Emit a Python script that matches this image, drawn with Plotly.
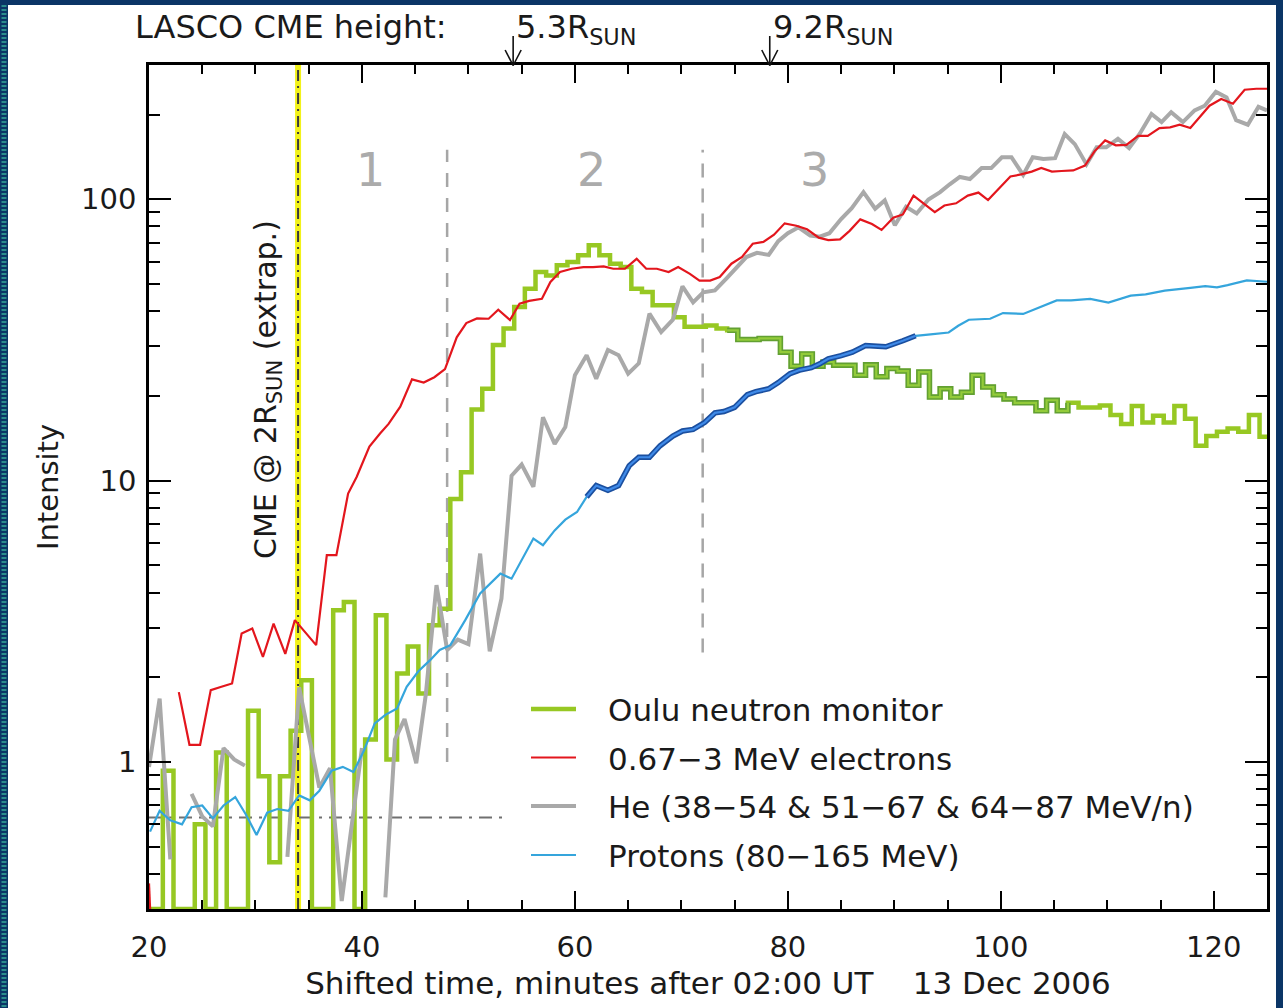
import plotly.graph_objects as go

# ---------------- data ----------------
oulu_time = [20.0] + [round(20.3 + i, 1) for i in range(105)]  # 1-min bin starts
oulu_intensity = [
    0.3,
    0.3, 0.93, 0.3, 0.3, 0.6, 0.3, 1.08, 0.3, 0.3, 1.52,
    0.89, 0.44, 0.89, 1.29, 1.95, 0.3, 0.3, 3.46, 3.7, 0.3,
    1.2, 3.32, 1.02, 2.06, 2.57, 1.75, 3.06, 3.5, 8.6, 10.7,
    17.9, 21.2, 30.3, 34.7, 41.4, 48.1, 55.1, 53.6, 58.2, 59.8,
    63.2, 68.6, 63.2, 59.0, 57.4, 48.1, 46.8, 42.0, 42.0, 38.1,
    35.2, 35.2, 35.6, 34.7, 34.2, 31.7, 31.7, 32.0, 32.0, 28.6,
    25.5, 28.2, 25.5, 26.4, 25.7, 25.7, 23.7, 25.8, 23.4, 25.0,
    24.5, 21.8, 24.3, 19.8, 21.2, 19.8, 20.6, 23.7, 21.5, 20.2,
    19.5, 18.9, 18.9, 17.7, 19.3, 17.7, 18.9, 18.2, 18.2, 18.5,
    17.1, 15.9, 18.4, 16.1, 17.0, 16.1, 18.4, 16.6, 13.3, 14.4,
    14.9, 15.3, 14.9, 17.1, 14.3,
]

electron_time = [
    20.0, 21.0, 22.0, 22.8, 23.8, 24.8, 25.8, 26.8, 27.8, 28.7, 29.7, 30.7,
    31.7, 32.8, 33.7, 35.7, 36.7, 37.6, 38.7, 39.5, 40.7, 41.7, 42.5, 43.6,
    44.7, 45.8, 46.8, 47.8, 48.9, 49.8, 50.8, 51.9, 52.8, 53.9, 54.8, 55.7,
    56.9, 57.7, 58.6, 59.7, 60.8, 61.7, 62.7, 63.6, 64.7, 65.8, 66.7, 67.7,
    68.8, 69.7, 70.8, 71.7, 72.7, 73.6, 74.7, 75.7, 76.7, 77.7, 78.7, 79.7,
    80.8, 81.8, 82.9, 83.8, 84.9, 85.8, 86.8, 87.9, 88.8, 89.9, 90.8, 91.8,
    92.9, 93.8, 94.7, 95.8, 96.9, 97.9, 98.8, 99.9, 100.9, 101.9, 102.9, 103.8,
    104.8, 105.7, 106.8, 107.9, 108.8, 109.8, 110.8, 111.8, 112.9, 113.8, 114.9,
    115.9, 116.8, 117.8, 118.7, 119.6, 120.7, 121.8, 122.9, 124.0, 125.0,
]
electron_intensity = [
    0.37, 0.05, None, 1.77, 1.15, 1.15, 1.80, 1.85, 1.90, 2.86, 2.98, 2.36,
    3.10, 2.42, 3.19, 2.6, 5.43, 5.43, 8.99, 10.3, 13.2, 14.7, 15.9, 18.3,
    22.9, 22.3, 23.3, 24.9, 32.3, 36.3, 37.7, 37.6, 40.5, 37.2, 42.5, 43.5,
    44.3, 50.8, 55.1, 56.6, 57.4, 57.4, 57.7, 56.6, 56.6, 61.4, 56.6, 56.6,
    55.1, 57.4, 54.3, 51.4, 51.4, 52.9, 59.0, 62.4, 69.5, 70.5, 74.8, 82.1,
    80.5, 78.2, 73.0, 71.6, 72.0, 77.2, 84.8, 81.6, 77.8, 85.9, 88.3, 103,
    95.6, 89.9, 95.0, 96.7, 103, 105.6, 99.3, 109.5, 120.5, 122.5, 125.4, 129.2,
    125.4, 126, 126.6, 131.7, 148, 161.8, 155.5, 156, 168, 168, 179,
    180, 184, 179, 195.6, 215, 227, 218.6, 245, 247, 247,
]

helium_time = [
    20.0, 21.0, 22.0, 23.0, 24.0, 25.0, 26.0, 27.0, 28.0, 29.0, 30.0,
    33.0, 34.1, 36.0, 37.0, 38.1, 40.0, 41.0, 42.2, 43.1, 44.0, 45.1, 46.0,
    47.0, 48.0, 49.0, 50.0, 51.1, 52.0, 53.1, 54.05, 55.0, 56.1, 57.0, 58.1,
    59.1, 60.0, 61.1, 62.0, 63.1, 64.1, 65.0, 66.0, 67.0, 68.1, 69.2, 70.1,
    71.1, 72.05, 73.15, 74.2, 75.2, 76.1, 77.1, 78.2, 79.1, 80.0, 81.0, 82.1,
    83.0, 83.9, 85.0, 86.0, 87.1, 88.2, 89.1, 90.05, 91.1, 92.1, 93.2, 94.3,
    95.2, 96.15, 97.1, 98.2, 99.1, 100.1, 101.0, 102.1, 103.0, 104.0, 105.1,
    106.0, 106.95, 108.05, 109.0, 109.9, 111.0, 112.05, 113.05, 114.15, 115.1,
    116.0, 117.1, 118.2, 119.15, 120.2, 121.2, 122.1, 123.2, 124.2, 125.0,
]
helium_intensity = [
    0.96, 1.68, 0.45, None, 0.77, 0.64, 0.59, 1.12, 1.02, 0.97, None,
    0.46, 1.84, 0.81, 0.95, 0.32, 1.12, None, 0.33, 1.2, 1.42, 0.99, 1.74,
    4.25, 2.5, 2.72, 2.62, 5.5, 2.47, 3.8, 10.4, 11.4, 9.5, 16.8, 13.5,
    15.5, 23.7, 27.9, 23.0, 29.1, 27.9, 24.0, 26.1, 39.2, 33.7, 37.3, 49.0,
    43.0, 46.7, 47.4, 52.1, 57.4, 62.3, 64.5, 63.4, 71.0, 75.7, 79.5, 74.3,
    73.6, 75.7, 85, 93, 106, 92.5, 99, 80.8, 94, 89, 99.8, 106,
    113, 120, 118, 129, 129, 141, 141, 122, 141, 139, 140,
    170.6, 157, 133, 153, 153, 164, 152, 171, 201, 188,
    204, 188, 207, 215, 241, 230, 191, 184, 213, 207,
]

proton_time = [
    20.1, 21.0, 22.0, 23.1, 24.0, 25.0, 26.0, 27.0, 28.1, 29.1, 30.1, 31.1,
    32.05, 33.1, 34.1, 35.1, 36.0, 37.15, 38.2, 39.2, 40.2, 41.2, 42.2, 43.3,
    44.2, 45.3, 46.4, 47.3, 48.3, 49.7, 51.1, 52.0, 53.0, 54.05, 55.0, 56.1,
    57.0, 58.1, 59.1, 60.2, 61.1, 62.0, 63.1, 64.1, 65.1, 66.0, 67.0, 68.0,
    69.2, 70.1, 71.1, 72.2, 73.15, 74.0, 75.0, 76.2, 77.0, 78.2, 79.1, 80.2,
    81.1, 82.2, 83.0, 83.8, 85.0, 86.05, 87.3, 88.3, 89.2, 90.8, 92.0, 93.4,
    95.1, 96.0, 97.0, 99.0, 100.2, 102.1, 103.85, 105.25, 106.6, 108.4, 110.1,
    112.2, 113.6, 115.4, 117.8, 119.2, 120.3, 121.3, 123.1, 125.0,
]
proton_intensity = [
    0.565, 0.67, 0.62, 0.60, 0.69, 0.70, 0.63, 0.70, 0.75, 0.65, 0.55, 0.66,
    0.68, 0.67, 0.76, 0.73, 0.79, 0.93, 0.96, 0.92, 1.10, 1.37, 1.47, 1.55,
    1.85, 2.10, 2.30, 2.50, 2.60, 3.19, 3.97, 4.3, 4.67, 4.48, 5.2, 6.22,
    5.89, 6.65, 7.26, 7.73, 8.75, 9.6, 9.23, 9.6, 11.3, 12.1, 12.1, 13.3,
    14.4, 15.0, 15.2, 16.1, 17.4, 17.6, 18.2, 20.2, 20.7, 21.2, 22.3, 24.0,
    24.7, 25.2, 26.0, 27.1, 27.8, 28.6, 30.2, 30.0, 29.9, 31.4, 32.7, 33.1,
    33.6, 35.5, 37.3, 37.6, 39.4, 39.1, 41.6, 43.7, 43.7, 44.2, 42.9,
    45.4, 45.9, 47.3, 48.4, 49.1, 48.6, 49.5, 51.5, 50.9,
]

series_names = [
    "Oulu neutron monitor",
    "0.67\u22123 MeV electrons",
    "He (38\u221254 & 51\u221267 & 64\u221287 MeV/n)",
    "Protons (80\u2212165 MeV)",
]
x_range = [20, 125]
y_range = [0.3, 300]
y_tickvals = [1, 10, 100]
cme_time = 34.0
phase_boundary_time = [48.0, 72.0]
phase_boundary_bottom = [1.0, 2.45]
phase_boundary_top = 150
phase_labels = ["1", "2", "3"]
phase_label_time = [40.8, 61.6, 82.5]
background_level = 0.635
background_end_time = 53.7
lasco_heights = ["5.3", "9.2"]
lasco_time = [54.2, 78.3]
highlight_proton = [61.0, 92.1]
highlight_oulu = [74.3, 106.3]

# ---------------- geometry / style ----------------
import math
W, H = 1283, 1008
ML, MR, MT, MB = 149, 16, 65, 99
PW, PH = W - ML - MR, H - MT - MB
FONT = "DejaVu Sans"
TXT = "#1a1a1a"
GREEN, GREEN_D, GREEN_L = "#97C823", "#62A032", "#93CB3A"
RED = "#E3161D"
GREY = "#A9A9A9"
BLUE, BLUE_D, BLUE_L = "#35A5DC", "#1B4F9F", "#3F8AE8"
NAVY, TEAL = "#0B3566", "#2A8C8C"


def px(xp):
    return (xp - ML) / PW


def py(yp):
    return (H - MB - yp) / PH


def min_per_px():
    return (x_range[1] - x_range[0]) / PW


fig = go.Figure()

# Oulu neutron monitor (histogram-like steps)
ox = oulu_time + [x_range[1]]
oy = oulu_intensity + [oulu_intensity[-1]]
fig.add_trace(go.Scatter(x=ox, y=oy, mode="lines", line=dict(color=GREEN, width=4.5, shape="hv"),
                         name=series_names[0], showlegend=False))
hx = [t for t in ox if highlight_oulu[0] <= t <= highlight_oulu[1]]
hy = [v for t, v in zip(ox, oy) if highlight_oulu[0] <= t <= highlight_oulu[1]]
fig.add_trace(go.Scatter(x=hx, y=hy, mode="lines", line=dict(color=GREEN_D, width=5.5, shape="hv"),
                         showlegend=False, hoverinfo="skip"))
fig.add_trace(go.Scatter(x=hx, y=hy, mode="lines", line=dict(color=GREEN_L, width=2.2, shape="hv"),
                         showlegend=False, hoverinfo="skip"))
# He
fig.add_trace(go.Scatter(x=helium_time, y=helium_intensity, mode="lines", connectgaps=False,
                         line=dict(color=GREY, width=4), name=series_names[2], showlegend=False))
# electrons
fig.add_trace(go.Scatter(x=electron_time, y=electron_intensity, mode="lines", connectgaps=False,
                         line=dict(color=RED, width=2.2), name=series_names[1], showlegend=False))
# protons
fig.add_trace(go.Scatter(x=proton_time, y=proton_intensity, mode="lines",
                         line=dict(color=BLUE, width=2.2), name=series_names[3], showlegend=False))
bx = [t for t in proton_time if highlight_proton[0] <= t <= highlight_proton[1]]
by = [v for t, v in zip(proton_time, proton_intensity) if highlight_proton[0] <= t <= highlight_proton[1]]
fig.add_trace(go.Scatter(x=bx, y=by, mode="lines", line=dict(color=BLUE_D, width=5.5),
                         showlegend=False, hoverinfo="skip"))
fig.add_trace(go.Scatter(x=bx, y=by, mode="lines", line=dict(color=BLUE_L, width=2.2),
                         showlegend=False, hoverinfo="skip"))

shapes = []
# CME line (yellow + dash-dot)
shapes.append(dict(type="line", xref="x", yref="paper", x0=cme_time, x1=cme_time, y0=0, y1=1,
                   line=dict(color="#F2F21A", width=6), layer="below"))
shapes.append(dict(type="line", xref="x", yref="paper", x0=cme_time, x1=cme_time, y0=0, y1=1,
                   line=dict(color="#3a3a3a", width=2, dash="11px,5px,2px,5px"), layer="below"))
# phase boundaries
for t, b in zip(phase_boundary_time, phase_boundary_bottom):
    shapes.append(dict(type="line", xref="x", yref="y", x0=t, x1=t, y0=b, y1=phase_boundary_top,
                       line=dict(color="#A6A6A6", width=2.5, dash="14px,11px"), layer="below"))
# pre-event background level
shapes.append(dict(type="line", xref="x", yref="y", x0=x_range[0], x1=background_end_time,
                   y0=background_level, y1=background_level,
                   line=dict(color="#707070", width=2, dash="13px,7px,3px,7px"), layer="below"))
# LASCO arrows
dx = 8 * min_per_px()
for t in lasco_time:
    shapes.append(dict(type="line", xref="x", yref="paper", x0=t, x1=t, y0=py(36), y1=py(65.5),
                       line=dict(color="#111", width=1.6)))
    shapes.append(dict(type="line", xref="x", yref="paper", x0=t - dx, x1=t, y0=py(50), y1=py(65.5),
                       line=dict(color="#111", width=1.6)))
    shapes.append(dict(type="line", xref="x", yref="paper", x0=t + dx, x1=t, y0=py(50), y1=py(65.5),
                       line=dict(color="#111", width=1.6)))
# frame bands
shapes.append(dict(type="rect", xref="paper", yref="paper", x0=px(0), x1=px(W), y0=py(0), y1=py(5),
                   fillcolor=NAVY, line=dict(width=0)))
shapes.append(dict(type="rect", xref="paper", yref="paper", x0=px(0), x1=px(8), y0=py(0), y1=py(H),
                   fillcolor=NAVY, line=dict(width=0)))
shapes.append(dict(type="line", xref="paper", yref="paper", x0=px(4), x1=px(4), y0=py(5), y1=py(H),
                   line=dict(color=TEAL, width=5, dash="2px,2px")))
shapes.append(dict(type="rect", xref="paper", yref="paper", x0=px(W - 7), x1=px(W), y0=py(0), y1=py(H),
                   fillcolor=NAVY, line=dict(width=0)))

# manual legend
leg_rows = [709, 757.5, 806, 855]
leg_styles = [(GREEN, 4.5), (RED, 2.2), (GREY, 4), (BLUE, 2.2)]
annotations = []
for name, row, (c, w) in zip(series_names, leg_rows, leg_styles):
    shapes.append(dict(type="line", xref="paper", yref="paper", x0=px(531), x1=px(576), y0=py(row), y1=py(row),
                       line=dict(color=c, width=w)))
    annotations.append(dict(text=name, xref="paper", yref="paper", x=px(606), y=py(row + 1),
                            xanchor="left", yanchor="middle", showarrow=False,
                            font=dict(family=FONT, size=31, color=TXT)))

# texts
annotations.append(dict(text="LASCO CME height:", xref="paper", yref="paper", x=px(133), y=py(27),
                        xanchor="left", yanchor="middle", showarrow=False,
                        font=dict(family=FONT, size=32, color=TXT)))
for h, t in zip(lasco_heights, lasco_time):
    annotations.append(dict(text=h + "R<sub>SUN</sub>", xref="x", yref="paper", x=t, xshift=1, y=py(29),
                            xanchor="left", yanchor="middle", showarrow=False,
                            font=dict(family=FONT, size=32, color=TXT)))
for lab, t in zip(phase_labels, phase_label_time):
    annotations.append(dict(text=lab, xref="x", yref="paper", x=t, y=py(170), xanchor="center",
                            yanchor="middle", showarrow=False,
                            font=dict(family=FONT, size=46, color="#ABABAB")))
annotations.append(dict(text="CME @ 2R<sub>SUN</sub> (extrap.)", xref="x", yref="paper",
                        x=cme_time, xshift=-31, y=py(390), textangle=-90, xanchor="center",
                        yanchor="middle", showarrow=False, font=dict(family=FONT, size=30, color=TXT)))

axis_common = dict(showline=True, linecolor="black", linewidth=2.5, mirror="ticks", ticks="inside",
                   tickcolor="black", tickwidth=2, showgrid=False, zeroline=False,
                   tickfont=dict(family=FONT, size=29, color=TXT))

fig.update_layout(
    width=W, height=H, margin=dict(l=ML, r=MR, t=MT, b=MB, autoexpand=False),
    paper_bgcolor="white", plot_bgcolor="white", showlegend=False,
    shapes=shapes, annotations=annotations,
    xaxis=dict(range=x_range, tickmode="linear", tick0=20, dtick=20, ticklen=18,
               ticklabelstandoff=10,
               minor=dict(ticks="inside", dtick=5, ticklen=9, tickwidth=2, tickcolor="black"),
               title=dict(text="Shifted time, minutes after 02:00 UT \u00a0\u00a0\u00a013 Dec 2006",
                          font=dict(family=FONT, size=31, color=TXT), standoff=10),
               **axis_common),
    yaxis=dict(type="log", range=[math.log10(y_range[0]), math.log10(y_range[1])],
               tickmode="array", tickvals=y_tickvals, ticktext=[str(v) for v in y_tickvals],
               ticklen=22, ticklabelstandoff=4,
               minor=dict(ticks="inside", dtick="D1", ticklen=11, tickwidth=2, tickcolor="black"),
               title=dict(text="Intensity", font=dict(family=FONT, size=29, color=TXT), standoff=14),
               **axis_common),
)

fig.write_html("out.html")
